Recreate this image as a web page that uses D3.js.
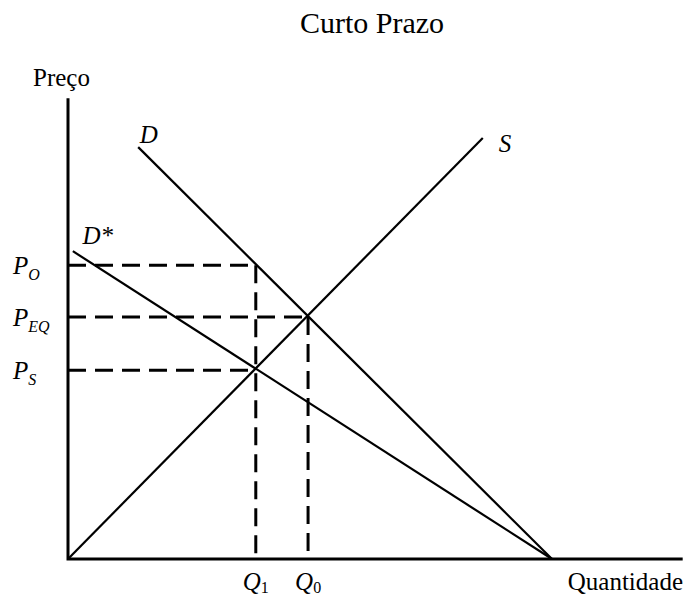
<!DOCTYPE html>
<html>
<head>
<meta charset="utf-8">
<script src="https://cdn.jsdelivr.net/npm/d3@7"></script>
<style>
  body { margin: 0; background: #fff; }
  text { font-family: "Liberation Serif", "Times New Roman", serif; fill: #000; }
</style>
</head>
<body>
<div id="chart"></div>
<script>
// curves (quantity, price)
const supply = [[0, 0], [8.57, 8.70]];
const demand = [[1.45, 8.51], [10, 0]];
const demandStar = [[0.1, 6.36], [10, 0]];

// dashed guide levels
const priceLevels = [
  {name: "P", sub: "O", p: 6.07, q: 3.88},
  {name: "P", sub: "EQ", p: 5.0, q: 4.96},
  {name: "P", sub: "S", p: 3.9, q: 3.88}
];
const qtyLevels = [
  {name: "Q", sub: "1", q: 3.88, p: 6.07},
  {name: "Q", sub: "0", q: 4.96, p: 5.0}
];
const axisMax = {q: 12.7, p: 9.52};

const width = 688, height = 596;

const svg = d3.select("#chart")
  .append("svg")
    .attr("width", width)
    .attr("height", height);

const x = d3.scaleLinear().domain([0, 10]).range([68, 552]);
const y = d3.scaleLinear().domain([0, 10]).range([559, 75]);

const line = d3.line().x(d => x(d[0])).y(d => y(d[1]));

// title
svg.append("text")
  .attr("x", 372).attr("y", 33)
  .attr("text-anchor", "middle")
  .style("font-size", "30px")
  .text("Curto Prazo");

// dashed guides
svg.append("g").selectAll("path")
  .data(priceLevels)
  .join("path")
    .attr("d", d => line([[0, d.p], [d.q, d.p]]))
    .attr("fill", "none").attr("stroke", "#000")
    .attr("stroke-width", 3).attr("stroke-dasharray", "18,9");

svg.append("g").selectAll("path")
  .data(qtyLevels)
  .join("path")
    .attr("d", d => line([[d.q, d.p], [d.q, 0]]))
    .attr("fill", "none").attr("stroke", "#000")
    .attr("stroke-width", 3).attr("stroke-dasharray", "18,9");

// curves
svg.append("g").selectAll("path")
  .data([supply, demand, demandStar])
  .join("path")
    .attr("d", line)
    .attr("fill", "none").attr("stroke", "#000")
    .attr("stroke-width", 2.2);

// axes
svg.append("path")
  .attr("d", line([[0, axisMax.p], [0, 0], [axisMax.q, 0]]))
  .attr("fill", "none").attr("stroke", "#000").attr("stroke-width", 3);

// axis titles
svg.append("text")
  .attr("x", 33).attr("y", 86)
  .style("font-size", "25px")
  .text("Preço");

svg.append("text")
  .attr("x", 683).attr("y", 590)
  .attr("text-anchor", "end")
  .style("font-size", "25px")
  .text("Quantidade");

// curve labels
const curveLabels = [
  {t: "D", q: 1.48, p: 8.6},
  {t: "S", q: 8.9, p: 8.4},
  {t: "D*", q: 0.3, p: 6.5}
];
svg.append("g").selectAll("text")
  .data(curveLabels)
  .join("text")
    .attr("x", d => x(d.q)).attr("y", d => y(d.p))
    .style("font-size", "25px").style("font-style", "italic")
    .text(d => d.t);

// price labels with subscripts
const pl = svg.append("g").selectAll("text")
  .data(priceLevels)
  .join("text")
    .attr("x", 13).attr("y", d => y(d.p) + 9)
    .style("font-size", "25px").style("font-style", "italic");
pl.append("tspan").text(d => d.name);
pl.append("tspan").attr("dy", 6).style("font-size", "16px").text(d => d.sub);

// quantity labels with subscripts
const ql = svg.append("g").selectAll("text")
  .data(qtyLevels)
  .join("text")
    .attr("x", d => x(d.q) - 13).attr("y", 590)
    .style("font-size", "25px").style("font-style", "italic");
ql.append("tspan").text(d => d.name);
ql.append("tspan").attr("dy", 3).style("font-size", "16px").style("font-style", "normal").text(d => d.sub);
</script>
</body>
</html>
